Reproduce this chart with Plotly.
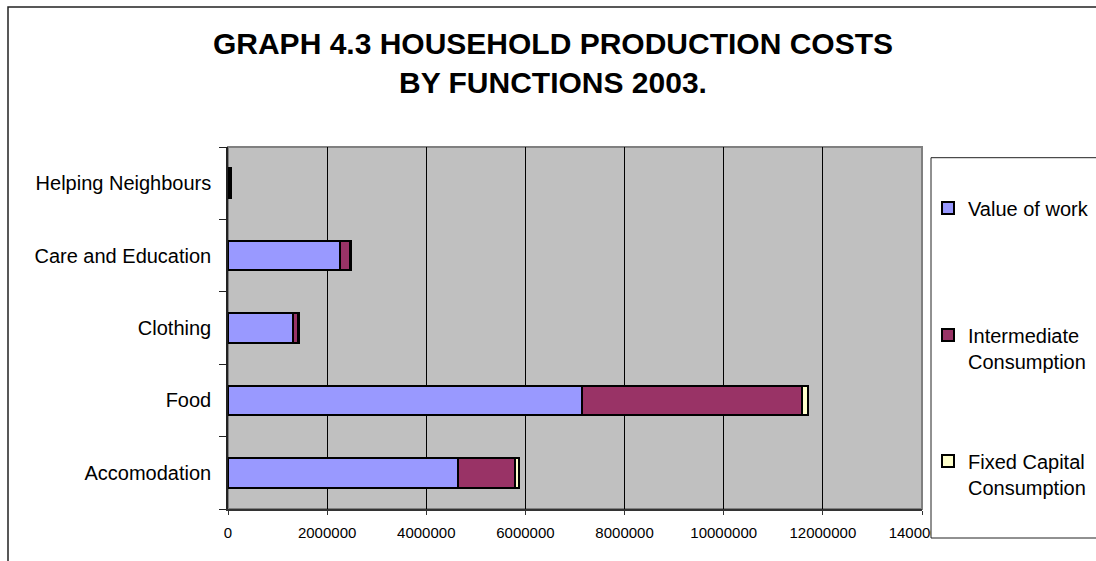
import plotly.graph_objects as go

categories = ["Accomodation", "Food", "Clothing", "Care and Education", "Helping Neighbours"]
value_of_work = [4645000, 7140000, 1306000, 2262000, 45000]
intermediate = [1150000, 4440000, 110000, 190000, 10000]
fixed_capital = [70000, 130000, 20000, 20000, 3000]

series_names = ["Value of work", "Intermediate<br>Consumption", "Fixed Capital<br>Consumption"]
series_colors = ["#9999FF", "#993366", "#FFFFCC"]
x_ticks = [0, 2000000, 4000000, 6000000, 8000000, 10000000, 12000000, 14000000]

FONT = "Arial, Liberation Sans, sans-serif"

# plot area in pixels
W, H = 1096, 561
L, R, T, B = 228, 174, 147, 52
PW = W - L - R
PH = H - T - B


def px_x(px):
    return (px - L) / PW


def px_y(py):
    return (H - B - py) / PH


fig = go.Figure()
legend_ids = ["legend", "legend2", "legend3"]
for vals, name, color, lg in zip([value_of_work, intermediate, fixed_capital],
                                 series_names, series_colors, legend_ids):
    fig.add_trace(go.Bar(
        y=categories, x=vals, name=name, orientation="h",
        marker=dict(color=color, line=dict(color="black", width=2)),
        width=0.41, legend=lg,
    ))

legend_common = dict(
    x=928 / W, xref="container", yref="container",
    xanchor="left", yanchor="middle",
    bgcolor="rgba(0,0,0,0)", borderwidth=0,
    font=dict(family=FONT, size=20, color="black"),
    valign="top",
)

fig.update_layout(
    width=W, height=H,
    margin=dict(l=L, r=R, t=T, b=B, pad=0, autoexpand=False),
    paper_bgcolor="white",
    plot_bgcolor="#C0C0C0",
    barmode="stack",
    bargap=0.59,
    title=dict(
        text="GRAPH 4.3 HOUSEHOLD PRODUCTION COSTS<br>BY FUNCTIONS 2003.",
        x=553 / W, xref="container", xanchor="center",
        y=1 - 54 / H, yref="container", yanchor="middle",
        font=dict(family=FONT, size=30, color="black", weight="bold"),
    ),
    legend=dict(y=1 - 208 / H, **legend_common),
    legend2=dict(y=1 - 348 / H, **legend_common),
    legend3=dict(y=1 - 474 / H, **legend_common),
    xaxis=dict(
        range=[0, 14000000],
        tickvals=x_ticks,
        ticktext=[str(v) for v in x_ticks],
        showgrid=True, gridcolor="black", gridwidth=1,
        zeroline=False,
        showline=True, linecolor="#333333", linewidth=1.5,
        ticks="outside", ticklen=4, tickcolor="#333333",
        tickfont=dict(family=FONT, size=15, color="black"),
        ticklabelstandoff=5,
        fixedrange=True,
    ),
    yaxis=dict(
        categoryorder="array", categoryarray=categories,
        showgrid=False, zeroline=False,
        showline=True, linecolor="#222222", linewidth=1.5,
        ticks="outside", ticklen=7, tickcolor="#222222",
        tickson="boundaries",
        tickfont=dict(family=FONT, size=20, color="black"),
        ticklabelstandoff=11,
        fixedrange=True,
    ),
    shapes=[
        # plot-area frame (top/right grey border)
        dict(type="rect", xref="paper", yref="paper", x0=0, x1=1, y0=0, y1=1,
             line=dict(color="#808080", width=2), fillcolor="rgba(0,0,0,0)", layer="below"),
        # outer chart border
        dict(type="rect", xref="paper", yref="paper",
             x0=px_x(8), x1=px_x(1110), y0=px_y(575), y1=px_y(7),
             line=dict(color="#222222", width=1.5), fillcolor="rgba(0,0,0,0)", layer="below"),
        # legend box
        dict(type="rect", xref="paper", yref="paper",
             x0=px_x(931), x1=px_x(1110), y0=px_y(538), y1=px_y(157.7),
             line=dict(color="#222222", width=1), fillcolor="white", layer="above"),
    ],
    showlegend=True,
)

fig.write_html("out.html")
